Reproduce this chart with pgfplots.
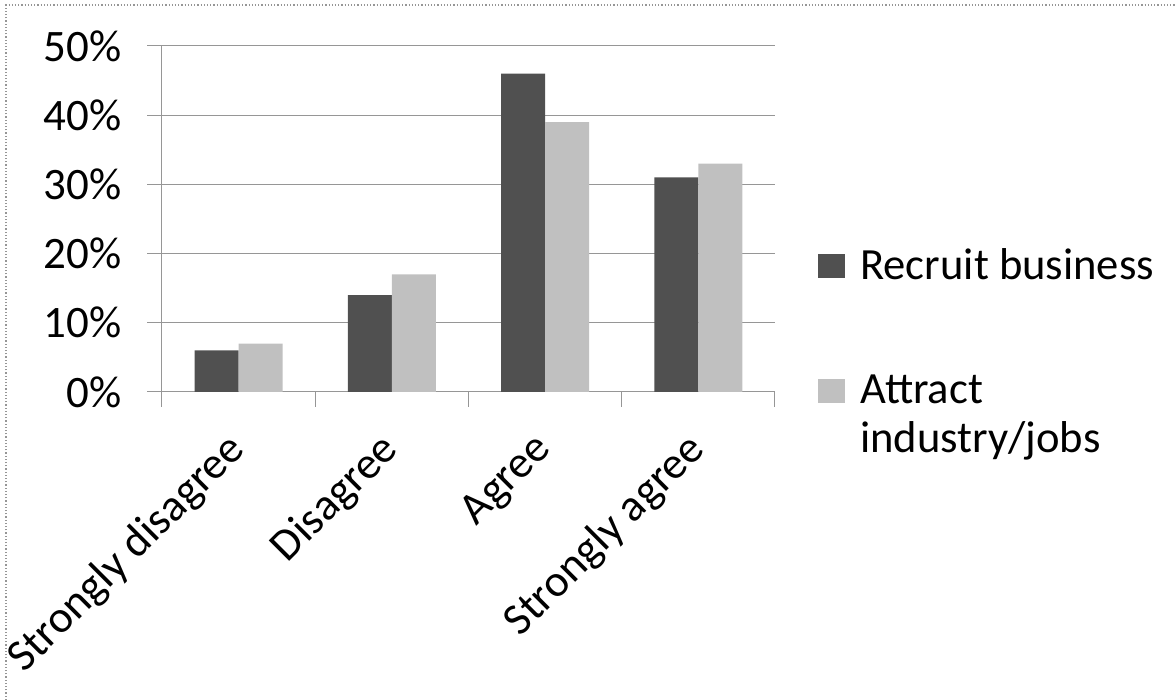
\documentclass[border=0pt]{standalone}
\usepackage{fontspec}
\setmainfont{Carlito}
\usepackage{pgfplots}
\pgfplotsset{compat=1.18}
\definecolor{darkbar}{RGB}{80,80,80}
\definecolor{lightbar}{RGB}{192,192,192}
\definecolor{gridgray}{RGB}{150,150,150}
\begin{document}
\begin{tikzpicture}
\useasboundingbox (0,0) rectangle (587.5pt,350pt);
\draw[gridgray, line width=0.6pt, densely dotted] (3pt,0pt) -- (3pt,347.5pt) -- (587.5pt,347.5pt);
\begin{axis}[
  at={(81pt,154pt)}, anchor=south west,
  scale only axis, width=306.5pt, height=173pt,
  ybar=0pt, bar width=22pt,
  xmin=-0.5, xmax=3.5, ymin=0, ymax=50,
  axis lines=left, axis line style={-, gridgray, line width=0.5pt},
  ymajorgrids, grid style={gridgray, line width=0.5pt},
  ytick={0,10,20,30,40,50},
  yticklabels={0\%,10\%,20\%,30\%,40\%,50\%},
  xtick={-0.5,0.5,1.5,2.5,3.5},
  x tick label as interval,
  xticklabels={Strongly disagree,Disagree,Agree,Strongly agree},
  tick align=outside, major tick length=7.5pt,
  tick style={gridgray, line width=0.5pt},
  /pgf/number format/assume math mode=true,
  tick label style={font=\fontsize{22.5}{26}\selectfont},
  yticklabel style={anchor=east, inner sep=0pt, xshift=-12.5pt},
  xticklabel style={rotate=45, anchor=east, inner sep=0pt, xshift=-12.7pt, yshift=-12.7pt},
  legend cell align=left,
  legend image code/.code={\fill[#1] (0pt,-6.5pt) rectangle (13.5pt,5.5pt);},
  legend style={at={(1.07,0.4275)}, anchor=north west, draw=none, fill=none,
    inner sep=0pt, row sep=42pt, column sep=5.5pt,
    font=\fontsize{22.3}{24.5}\selectfont},
]
\addplot[fill=darkbar, draw=none] coordinates {(0,6) (1,14) (2,46) (3,31)};
\addlegendentry{Recruit business}
\addplot[fill=lightbar, draw=none] coordinates {(0,7) (1,17) (2,39) (3,33)};
\addlegendentry{\parbox[t]{6cm}{Attract\\industry/jobs}}
\end{axis}
\end{tikzpicture}
\end{document}
